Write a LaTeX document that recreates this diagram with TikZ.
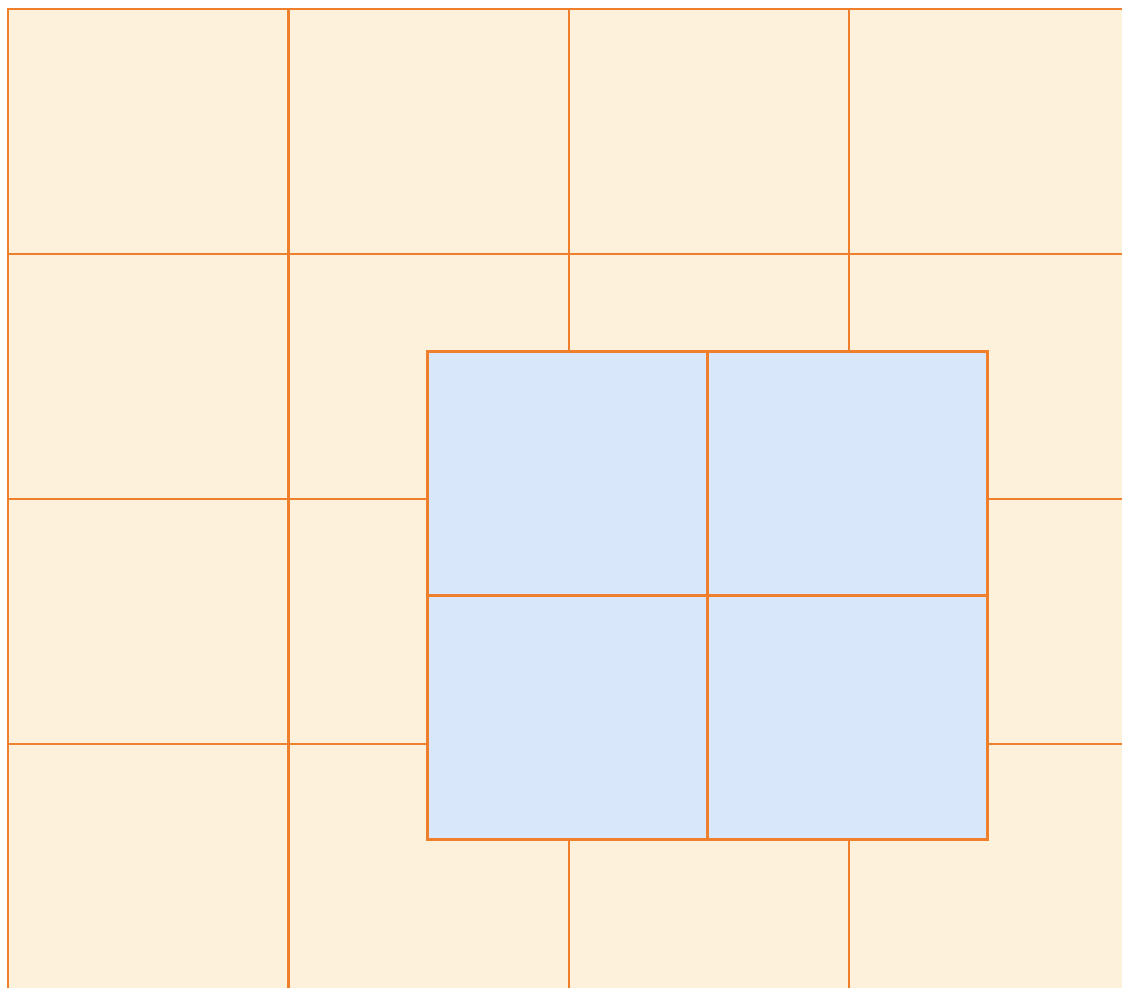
\documentclass[tikz,border=0pt]{standalone}
\definecolor{tan}{HTML}{FDF1DB}
\definecolor{paleblue}{HTML}{D8E8FA}
\definecolor{gridorange}{HTML}{F07F2C}
\tikzset{
  gridline/.style={draw=gridorange, line width=2.2pt, line cap=rect},
}
\begin{document}
\begin{tikzpicture}[x=0.75pt,y=-0.75pt]
\useasboundingbox (0,0) rectangle (1122,988);
% tan background tiles
\fill[tan] (8,9) rectangle (1122,988);
% outer grid
\foreach \x in {8,288.5,569,849}
  \draw[gridline] (\x,9) -- (\x,988);
\foreach \y in {9,254,499,744}
  \draw[gridline] (8,\y) -- (1122,\y);
% blue overlay
\fill[paleblue] (427.5,351.5) rectangle (987.5,839.5);
\draw[gridline] (427.5,351.5) rectangle (987.5,839.5);
\draw[gridline] (707.5,351.5) -- (707.5,839.5);
\draw[gridline] (427.5,595.5) -- (987.5,595.5);
\end{tikzpicture}
\end{document}
